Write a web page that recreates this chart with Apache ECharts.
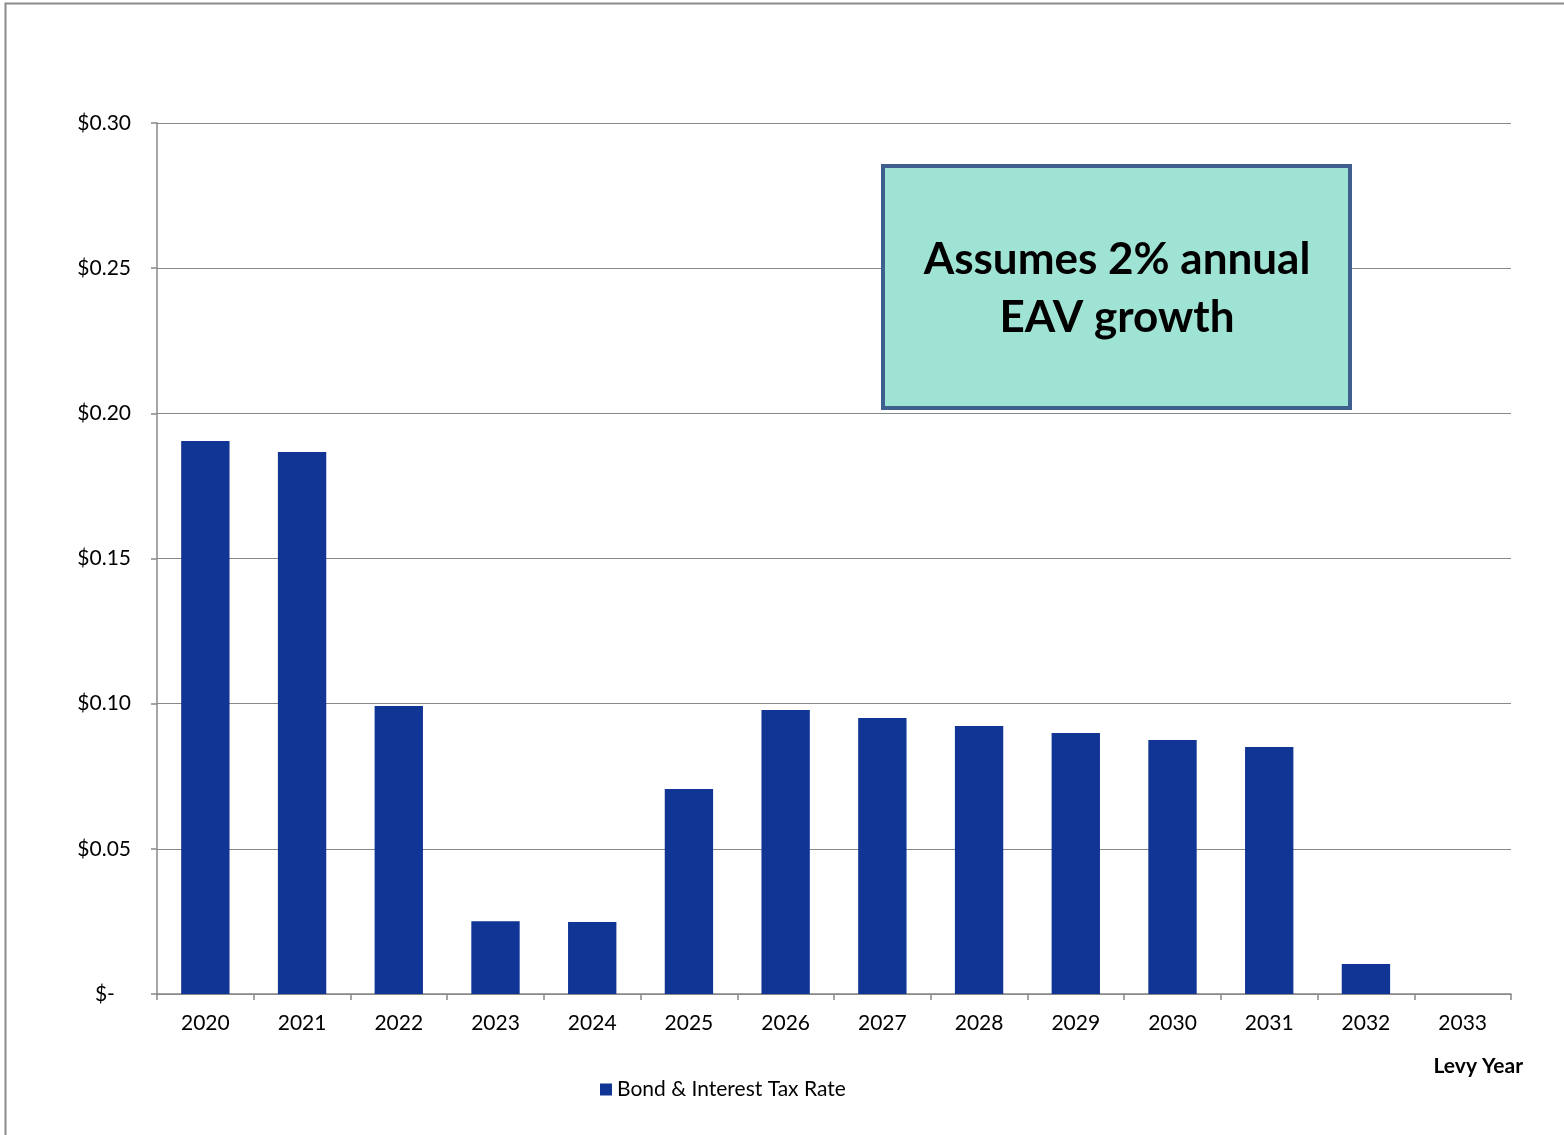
<!DOCTYPE html>
<html><head><meta charset="utf-8">
<script src="https://cdn.jsdelivr.net/npm/echarts@6/dist/echarts.min.js"></script>
<style>html,body{margin:0;padding:0;background:#fff}#c{width:1564px;height:1135px}</style>
</head><body><div id="c"></div>
<script>
const categories = ['2020','2021','2022','2023','2024','2025','2026','2027','2028','2029','2030','2031','2032','2033'];
const bondRate = [0.1905,0.1867,0.0992,0.0251,0.0248,0.0706,0.0978,0.0951,0.0923,0.0899,0.0875,0.0851,0.0103,0];
const seriesName = 'Bond & Interest Tax Rate';
const noteLines = ['Assumes 2% annual', 'EAV growth'];
const FONT = 'Lato, "Open Sans", sans-serif';
const chart = echarts.init(document.getElementById('c'));
chart.setOption({
  animation:false,
  backgroundColor:'#fff',
  grid:{left:157,right:53,top:123,bottom:141,containLabel:false},
  legend:{bottom:30,left:595,itemWidth:12,itemHeight:12,icon:'rect',itemGap:6,
    textStyle:{fontFamily:FONT,fontSize:21,color:'#000'},data:[seriesName]},
  xAxis:{type:'category',data:categories,boundaryGap:true,
    name:'Levy Year',nameLocation:'end',nameGap:0,
    nameTextStyle:{fontFamily:FONT,fontSize:21,fontWeight:'bold',color:'#000',align:'right',verticalAlign:'top',padding:[62,-12,0,0]},
    axisLine:{lineStyle:{color:'#888',width:1.5}},
    axisTick:{show:true,length:6,alignWithLabel:false,lineStyle:{color:'#888',width:1.5}},
    axisLabel:{fontFamily:FONT,fontSize:21,color:'#000',margin:19}},
  yAxis:{type:'value',min:0,max:0.3,interval:0.05,
    axisLine:{show:true,lineStyle:{color:'#888',width:1.5}},
    axisTick:{show:true,length:6,lineStyle:{color:'#888',width:1.5}},
    splitLine:{lineStyle:{color:'#888',width:1.2}},
    axisLabel:{fontFamily:FONT,fontSize:21,color:'#000',margin:26,
      formatter:v=> v===0 ? '$-   ' : '$'+v.toFixed(2)}},
  series:[{name:seriesName,type:'bar',data:bondRate,barWidth:'50%',
    itemStyle:{color:'#113594'}}],
  graphic:[
    {type:'rect',left:3,top:1,shape:{width:1600,height:1200},silent:true,z:-1,
      style:{fill:'none',stroke:'#8c8c8c',lineWidth:2}},
    {type:'rect',left:881,top:164,shape:{width:467,height:242},z:10,
      style:{fill:'#9ee3d3',stroke:'#3f5f8f',lineWidth:4}},
    {type:'text',z:11,
      style:{text:noteLines.join('\n'),x:1117,y:289,textAlign:'center',textVerticalAlign:'middle',
        font:'bold 44px '+FONT,fill:'#000',lineHeight:58}}
  ]
});
</script></body></html>
